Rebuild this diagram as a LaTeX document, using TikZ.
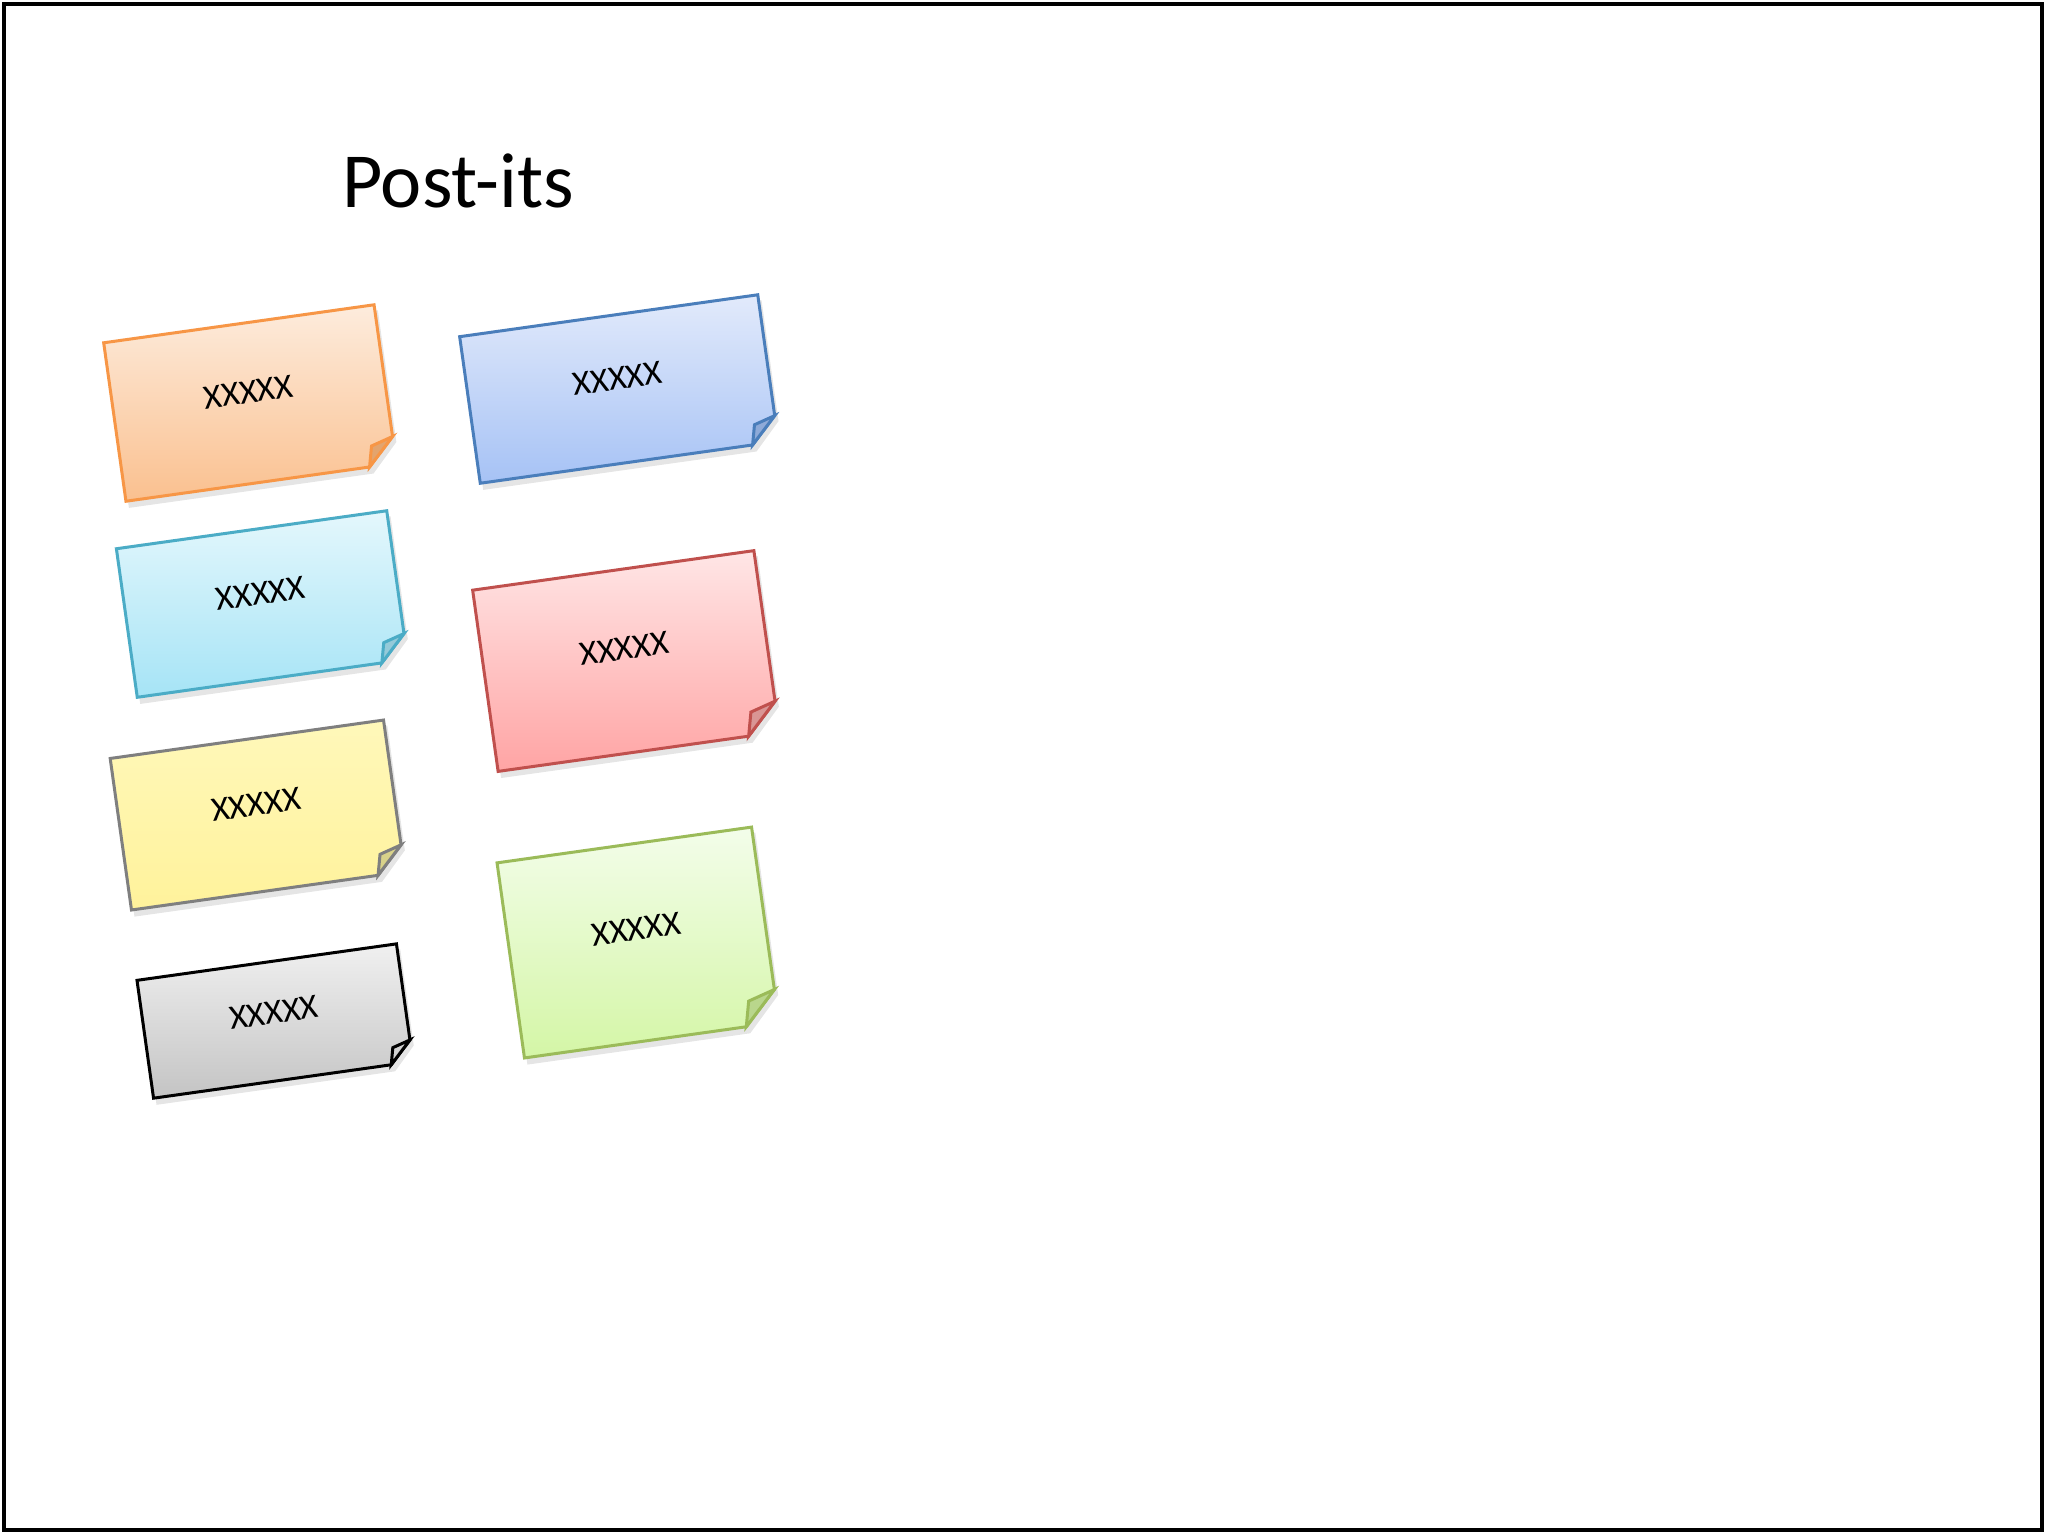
\documentclass[tikz,border=0pt]{standalone}
\usepackage{fontspec}
\setmainfont{Carlito}
\definecolor{oTop}{HTML}{FDECDD}\definecolor{oBot}{HTML}{FAC08F}\definecolor{oLine}{HTML}{F79646}\definecolor{oFold}{HTML}{E3A46E}
\definecolor{bTop}{HTML}{E2EAFB}\definecolor{bBot}{HTML}{A6C2F5}\definecolor{bLine}{HTML}{4A7EBB}\definecolor{bFold}{HTML}{8EAAD8}
\definecolor{cTop}{HTML}{E4F7FC}\definecolor{cBot}{HTML}{A6E4F6}\definecolor{cLine}{HTML}{4BACC6}\definecolor{cFold}{HTML}{94CAD9}
\definecolor{yTop}{HTML}{FFF8BA}\definecolor{yBot}{HTML}{FFF29B}\definecolor{yLine}{HTML}{7F7F7F}\definecolor{yFold}{HTML}{D8D28A}
\definecolor{rTop}{HTML}{FFE6E6}\definecolor{rBot}{HTML}{FFA4A4}\definecolor{rLine}{HTML}{C0504D}\definecolor{rFold}{HTML}{D99594}
\definecolor{gTop}{HTML}{F3FDEA}\definecolor{gBot}{HTML}{D4F6A6}\definecolor{gLine}{HTML}{9BBB59}\definecolor{gFold}{HTML}{B9D68C}
\definecolor{kTop}{HTML}{F0F0F0}\definecolor{kBot}{HTML}{C4C4C4}\definecolor{kLine}{HTML}{000000}\definecolor{kFold}{HTML}{D2D2D2}
\tikzset{
  noteline/.style={line width=0.3mm, line join=miter},
  notetext/.style={font=\fontsize{9.8pt}{11pt}\selectfont, transform shape, inner sep=0pt},
  titletext/.style={font=\fontsize{22.2pt}{26pt}\selectfont, inner sep=0pt, anchor=base},
  frameline/.style={line width=0.4mm}
}
% #1 name, #2 cx, #3 cy, #4 W, #5 H, #6 fold, #7 colour prefix
\newcommand{\postit}[7]{%
  \begin{scope}[shift={(#2,#3)}, rotate=8]
    \fill[black, opacity=0.10] (-#4/2+2,-#5/2+6) -- (#4/2+3,-#5/2+6) -- (#4/2+3,#5/2-#6+6) -- (#4/2-#6+3,#5/2+7) -- (-#4/2+2,#5/2+7) -- cycle;
    \shadedraw[noteline, top color=#7Top, bottom color=#7Bot, draw=#7Line]
      (-#4/2,-#5/2) -- (#4/2,-#5/2) -- (#4/2,#5/2-#6) -- (#4/2-#6,#5/2) -- (-#4/2,#5/2) -- cycle;
    \filldraw[noteline, fill=#7Fold, draw=#7Line]
      (#4/2,#5/2-#6) -- (#4/2-0.82*#6,#5/2-0.76*#6) -- (#4/2-#6,#5/2) -- cycle;
    \node[notetext] (#1) at (0,-0.07*#5) {XXXXX};
  \end{scope}}
\begin{document}
\begin{tikzpicture}[x=0.1mm, y=-0.1mm]
  \useasboundingbox (0,0) rectangle (2048,1536);
  \fill[white] (0,0) rectangle (2048,1536);
  \draw[frameline] (4,4) rectangle (2042,1530);
  \node[titletext] (title) at (458,207) {Post-its};
  \postit{orange}{250}{403}{273}{160}{27}{o}
  \postit{blue}{619}{389}{301}{148}{26}{b}
  \postit{cyan}{262}{604}{273}{150}{26}{c}
  \postit{red}{626}{661}{284}{183}{31}{r}
  \postit{yellow}{257.5}{815}{276}{153}{27}{y}
  \postit{green}{638}{942.5}{257}{197}{33}{g}
  \postit{gray}{275}{1021}{262}{119}{22}{k}
\end{tikzpicture}
\end{document}
